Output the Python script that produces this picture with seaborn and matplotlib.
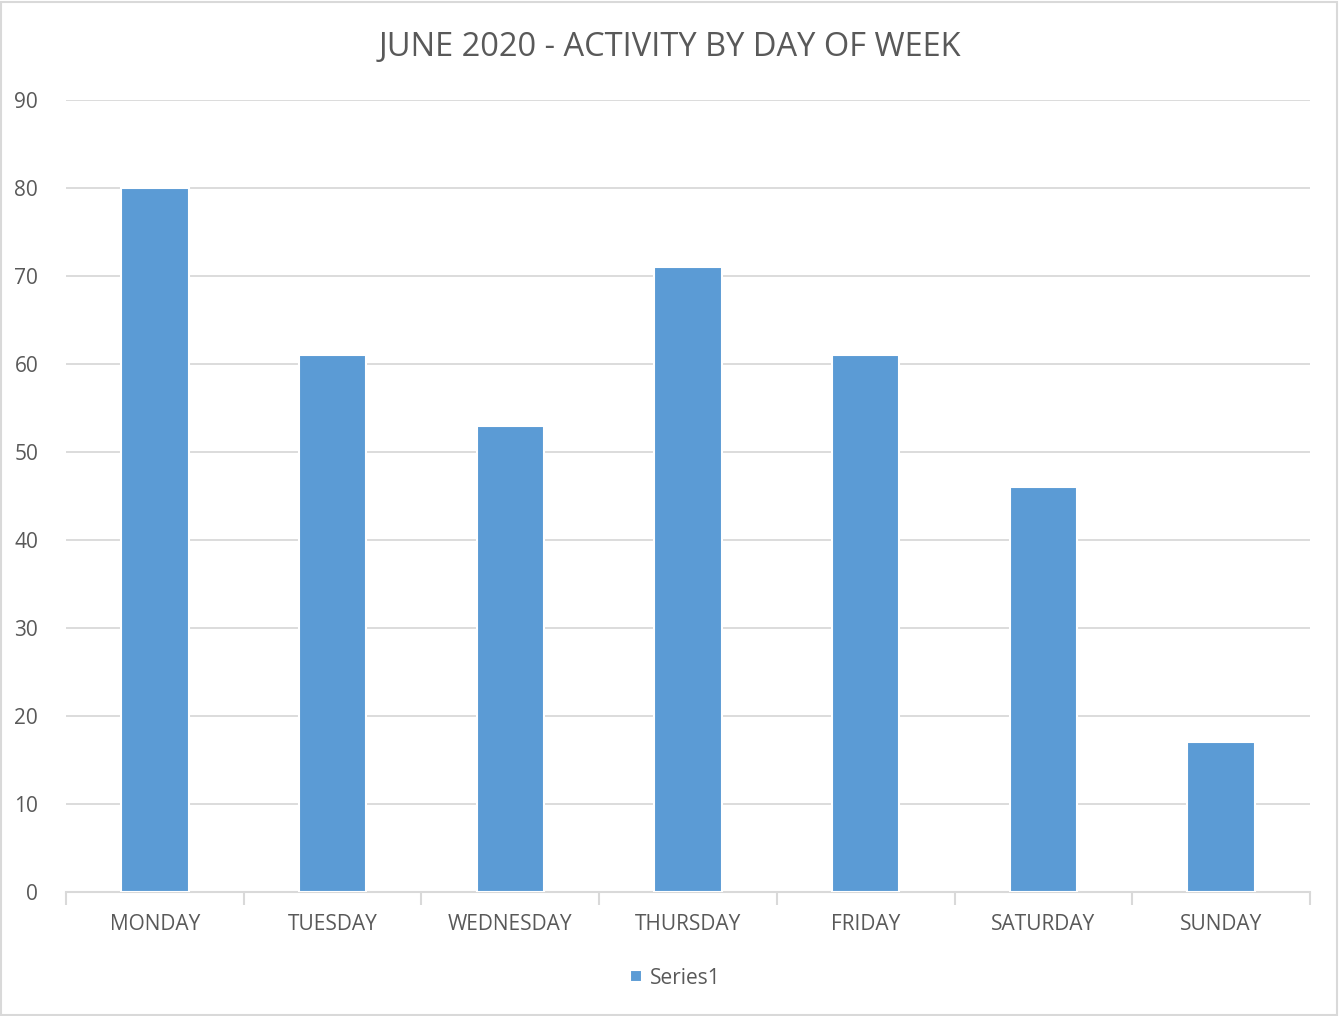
import matplotlib
matplotlib.use("Agg")
import matplotlib.pyplot as plt
import numpy as np
import pandas as pd
import seaborn as sns

days = ["MONDAY", "TUESDAY", "WEDNESDAY", "THURSDAY", "FRIDAY", "SATURDAY", "SUNDAY"]
activity = [80, 61, 53, 71, 61, 46, 17]
y_ticks = [0, 10, 20, 30, 40, 50, 60, 70, 80, 90]

BAR = "#5B9BD5"
GRID = "#D9D9D9"
TEXT = "#595959"

sns.set_style("white")
plt.rcParams["font.family"] = ["Open Sans", "DejaVu Sans"]

df = pd.DataFrame({"day": days, "value": activity})

fig = plt.figure(figsize=(13.4, 10.16), dpi=100)
ax = fig.add_axes([66 / 1340, 1 - 892 / 1016, (1310 - 66) / 1340, (892 - 100) / 1016])

sns.barplot(data=df, x="day", y="value", color=BAR, width=0.38, saturation=1,
            edgecolor="white", linewidth=1.5, ax=ax, zorder=3, label="Series1")

ax.set_ylim(0, 90)
ax.set_xlim(-0.5, len(days) - 0.5)
ax.set_yticks(y_ticks)
ax.yaxis.grid(True, color=GRID, linewidth=1.3, zorder=0)
ax.set_axisbelow(True)
for s in ["top", "right", "left"]:
    ax.spines[s].set_visible(False)
ax.spines["bottom"].set_color(GRID)
ax.spines["bottom"].set_linewidth(1.5)
ax.spines["bottom"].set_zorder(1)

# category boundary ticks below the axis
ax.set_xticks(np.arange(-0.5, len(days)), minor=True)
ax.tick_params(axis="x", which="minor", bottom=True, length=9, width=1.5,
               color=GRID, direction="out")
ax.tick_params(axis="x", which="major", length=0, pad=16, labelsize=15, labelcolor=TEXT)
ax.tick_params(axis="y", length=0, pad=20, labelsize=15, labelcolor=TEXT)
ax.set_xlabel("")
ax.set_ylabel("")

fig.suptitle("JUNE 2020 - ACTIVITY BY DAY OF WEEK", y=1 - 48 / 1016, va="center",
             fontsize=23.5, color=TEXT)

leg = ax.legend(loc="center", bbox_to_anchor=(0.49, -(978 - 892) / (892 - 100)),
                frameon=False, fontsize=15, handlelength=0.55, handleheight=0.55,
                handletextpad=0.4, labelcolor=TEXT)

# light border around the whole chart
fig.patches.append(plt.Rectangle((0.001, 0.001), 0.997, 0.997, transform=fig.transFigure,
                                 fill=False, edgecolor=GRID, linewidth=1.5))

fig.savefig("out.png", dpi=100)
